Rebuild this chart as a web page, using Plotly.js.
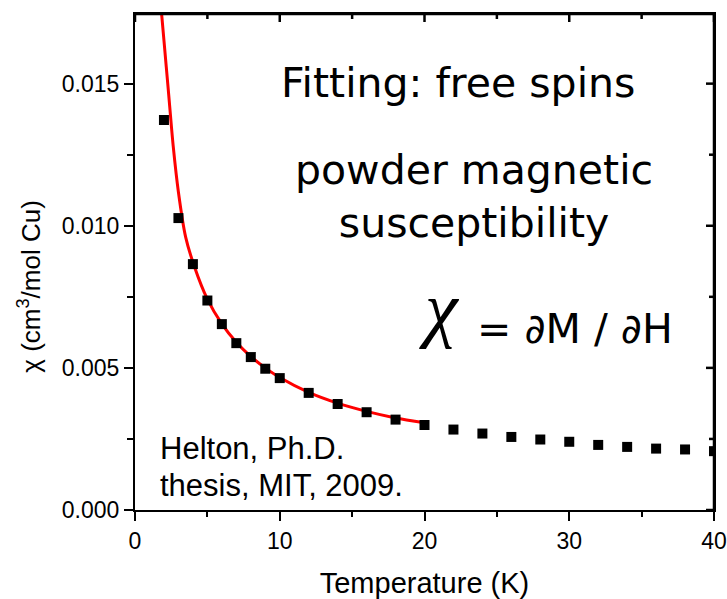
<!DOCTYPE html>
<html>
<head>
<meta charset="utf-8">
<script src="https://cdn.plot.ly/plotly-3.0.1.min.js"></script>
<style>html,body{margin:0;padding:0;background:#fff;overflow:hidden;}#chart{width:727px;height:599px;}</style>
</head>
<body>
<div id="chart"></div>
<script>
// Measured data: temperature (K) and susceptibility (cm^3/mol Cu)
const temperature = [2,3,4,5,6,7,8,9,10,12,14,16,18,20,22,24,26,28,30,32,34,36,38,40];
const chiData = [0.01372,0.01027,0.00865,0.00737,0.00654,0.00587,0.00538,0.00497,0.00464,0.00412,0.00373,0.00344,0.00318,0.00299,0.00283,0.00269,0.00257,0.00248,0.00240,0.00229,0.00222,0.00216,0.00213,0.00207];

// Free-spin fit curve
const fitT = [1.84,2.0,2.3,2.64,3.0,3.5,4.1,5,6,7,8,9,10,12,14,16,18,20];
const fitChi = [0.01745,0.01652,0.01478,0.0128,0.01118,0.0096,0.00857,0.00742,0.00655,0.0059,0.0054,0.0050,0.00466,0.00414,0.00376,0.00347,0.00324,0.00307];

// Axis ticks
const xTicks = [0,10,20,30,40];
const xTickText = ['0','10','20','30','40'];
const xMinorTicks = [5,15,25,35];
const yTicks = [0,0.005,0.010,0.015];
const yTickText = ['0.000','0.005','0.010','0.015'];
const yMinorTicks = [0.0025,0.0075,0.0125];

const arial = 'Arial, "Liberation Sans", sans-serif';
const wide = '"DejaVu Sans", sans-serif';

const W = 727, H = 599;
const M = {l: 135, r: 13, t: 14, b: 88.5};
const plotW = W - M.l - M.r, plotH = H - M.t - M.b;

const traces = [
  {x: fitT, y: fitChi, mode: 'lines', line: {color: '#ff0000', width: 3, shape: 'spline', smoothing: 0.8}, hoverinfo: 'skip', showlegend: false},
  {x: temperature, y: chiData, mode: 'markers', marker: {symbol: 'square', size: 10, color: '#000'}, showlegend: false}
];

// frame on top/right with inward ticks (mirror of the main axes)
const frameLine = {color: '#000', width: 2.5};
const shapes = [
  {type: 'line', layer: 'above', xref: 'paper', yref: 'paper', x0: 0, x1: 1, y0: 1, y1: 1, line: frameLine},
  {type: 'line', layer: 'above', xref: 'paper', yref: 'paper', x0: 1, x1: 1, y0: 0, y1: 1, line: frameLine}
];
xTicks.forEach(v => shapes.push({type: 'line', layer: 'above', xref: 'x', yref: 'paper', x0: v, x1: v, y0: 1, y1: 1 - 8 / plotH, line: frameLine}));
xMinorTicks.forEach(v => shapes.push({type: 'line', layer: 'above', xref: 'x', yref: 'paper', x0: v, x1: v, y0: 1, y1: 1 - 5 / plotH, line: frameLine}));
yTicks.forEach(v => shapes.push({type: 'line', layer: 'above', xref: 'paper', yref: 'y', x0: 1, x1: 1 - 8 / plotW, y0: v, y1: v, line: frameLine}));
yMinorTicks.forEach(v => shapes.push({type: 'line', layer: 'above', xref: 'paper', yref: 'y', x0: 1, x1: 1 - 5 / plotW, y0: v, y1: v, line: frameLine}));

const axCommon = {showgrid: false, zeroline: false, showline: true, mirror: true, linecolor: '#000', linewidth: 2,
  tickcolor: '#000', tickwidth: 2};

const layout = {
  width: W, height: H,
  margin: {l: M.l, r: M.r, t: M.t, b: M.b, pad: 0},
  paper_bgcolor: '#fff', plot_bgcolor: '#fff',
  font: {family: arial, color: '#000', size: 22},
  xaxis: Object.assign({}, axCommon, {
    range: [0, 40], tickmode: 'array', tickvals: xTicks, ticktext: xTickText,
    ticks: 'outside', ticklen: 9,
    minor: {tickmode: 'array', tickvals: xMinorTicks, ticks: 'outside', ticklen: 5, tickwidth: 2, tickcolor: '#000', showgrid: false},
    tickfont: {family: arial, size: 23, color: '#000'},
    title: {text: 'Temperature (K)', font: {family: arial, size: 29, color: '#000'}, standoff: 20}
  }),
  yaxis: Object.assign({}, axCommon, {
    range: [0, 0.01745], tickmode: 'array', tickvals: yTicks, ticktext: yTickText,
    ticks: 'outside', ticklen: 9,
    minor: {tickmode: 'array', tickvals: yMinorTicks, ticks: 'outside', ticklen: 6, tickwidth: 2, tickcolor: '#000', showgrid: false},
    tickfont: {family: arial, size: 23, color: '#000'}
  }),
  shapes: shapes,
  annotations: [
    {text: 'χ (cm<sup>3</sup>/mol Cu)', textangle: -90, x: (30 - M.l) / plotW, y: (H - M.b - 287) / plotH, xref: 'paper', yref: 'paper', xanchor: 'center', yanchor: 'middle', showarrow: false, font: {family: arial, size: 26, color: '#000'}},
    {text: 'Fitting: free spins', x: 22.28, y: 0.01502, xref: 'x', yref: 'y', xanchor: 'center', yanchor: 'middle', showarrow: false, font: {family: wide, size: 41, color: '#000'}},
    {text: 'powder magnetic<br>susceptibility', x: 23.42, y: 0.011015, xref: 'x', yref: 'y', xanchor: 'center', yanchor: 'middle', showarrow: false, font: {family: wide, size: 41, color: '#000'}},
    {text: '= ∂M / ∂H', x: 23.5, y: 0.006377, xref: 'x', yref: 'y', xanchor: 'left', yanchor: 'middle', showarrow: false, font: {family: wide, size: 41, color: '#000'}},
    {text: '<i>χ</i>', x: 21.07, y: 0.0071, xref: 'x', yref: 'y', xanchor: 'center', yanchor: 'middle', showarrow: false, font: {family: '"Liberation Serif", serif', size: 74, color: '#000'}},
    {text: 'Helton, Ph.D.', x: 1.6, y: 0.00215, xref: 'x', yref: 'y', xanchor: 'left', yanchor: 'middle', showarrow: false, font: {family: arial, size: 31, color: '#000'}},
    {text: 'thesis, MIT, 2009.', x: 1.6, y: 0.00085, xref: 'x', yref: 'y', xanchor: 'left', yanchor: 'middle', showarrow: false, font: {family: arial, size: 31, color: '#000'}}
  ]
};

Plotly.newPlot('chart', traces, layout, {displayModeBar: false, staticPlot: true});
</script>
</body>
</html>
